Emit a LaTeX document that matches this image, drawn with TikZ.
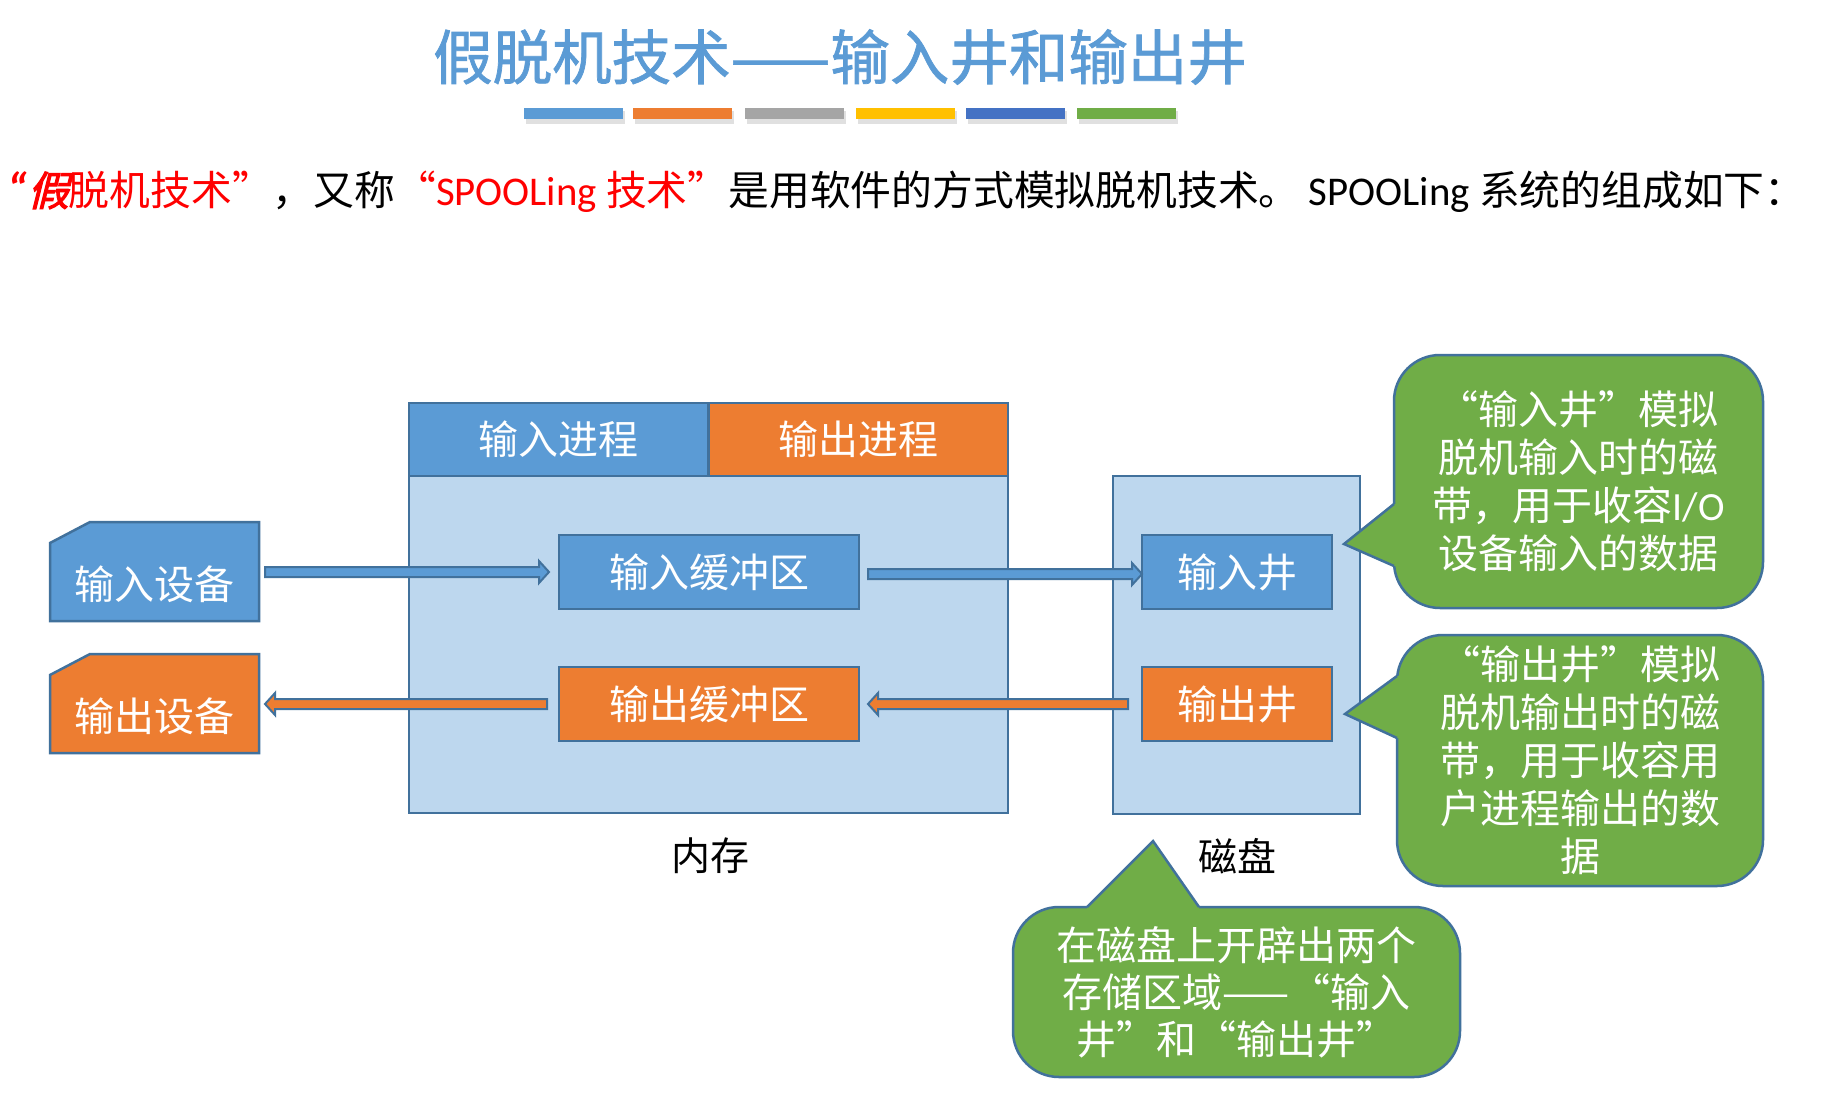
\documentclass[tikz,border=0pt]{standalone}
\usepackage{fontspec}
\setmainfont{Noto Sans CJK SC}
\newfontfamily\lat{Carlito}
\newfontfamily\leadfont[FakeSlant=0.25,FakeBold=2.5]{Noto Sans CJK SC}
\newfontfamily\titlefont[FakeBold=1.2]{Noto Sans CJK SC}
\usetikzlibrary{calc,backgrounds}

\definecolor{pblue}{HTML}{5B9BD5}
\definecolor{porange}{HTML}{ED7D31}
\definecolor{plight}{HTML}{BDD7EE}
\definecolor{edge}{HTML}{41719C}
\definecolor{pgreen}{HTML}{70AD47}
\definecolor{pgray}{HTML}{A5A5A5}
\definecolor{pgold}{HTML}{FFC000}
\definecolor{pnavy}{HTML}{4472C4}
\definecolor{pred}{HTML}{FF0000}

\tikzset{
  every node/.style={inner sep=0pt, outer sep=0pt},
  boxline/.style={draw=edge, line width=2.5pt},
  boxfont/.style={font=\fontsize{40}{48}\selectfont, text=white},
  bluebox/.style={boxline, boxfont, fill=pblue},
  orangebox/.style={boxline, boxfont, fill=porange},
  panel/.style={boxline, fill=plight},
  devfill/.style={draw=edge, line width=2.5pt, line join=miter},
  callout/.style={draw=edge, line width=2.5pt, fill=pgreen, rounded corners=46pt,
                  text=white, align=center, font=\fontsize{40}{48}\selectfont},
  calloutedge/.style={draw=edge, line width=2.5pt, line join=miter},
  barrow/.style={draw=edge, line width=2pt, fill=pblue, line join=miter},
  oarrow/.style={draw=edge, line width=2pt, fill=porange, line join=miter},
  caption/.style={font=\fontsize{39}{44}\selectfont, text=black},
  bar/.style={minimum width=99pt, minimum height=11pt},
  devtext/.style={boxfont, minimum width=209pt, minimum height=99pt, text height=60pt, text depth=5pt},
}

% horizontal block arrows: #1 style, #2 tail, #3 tip
\newcommand\rarrow[3]{%
  \draw[#1] let \p1=(#2), \p2=(#3) in
    (\x1,\y1+5pt) -- (\x2-10pt,\y1+5pt) -- (\x2-10pt,\y1+11pt) -- (\x2,\y1)
    -- (\x2-10pt,\y1-11pt) -- (\x2-10pt,\y1-5pt) -- (\x1,\y1-5pt) -- cycle;}
\newcommand\larrow[3]{%
  \draw[#1] let \p1=(#2), \p2=(#3) in
    (\x1,\y1+5pt) -- (\x2+10pt,\y1+5pt) -- (\x2+10pt,\y1+11pt) -- (\x2,\y1)
    -- (\x2+10pt,\y1-11pt) -- (\x2+10pt,\y1-5pt) -- (\x1,\y1-5pt) -- cycle;}

\begin{document}
\begin{tikzpicture}[x=1pt,y=-1pt]
\useasboundingbox (0,0) rectangle (1821,1098);
\begin{scope}[on background layer]
  \fill[white] (0,0) rectangle (1821,1098);
\end{scope}

% title and colour strip
\node[font=\titlefont\fontsize{59.5}{64}\selectfont, text=pblue] (title) at (840,57)
  {假脱机技术——输入井和输出井};
\foreach \xx/\cc [count=\i] in {524/pblue,633/porange,745/pgray,856/pgold,966/pnavy,1077/pgreen}{
  \fill[black, opacity=0.12] (\xx+2,111) rectangle (\xx+101,124);
  \node[bar, fill=\cc, anchor=north west] (bar\i) at (\xx,108) {};
}

% introduction line
\node[anchor=west, font=\fontsize{40.8}{44}\selectfont] (intro) at (8,192)
  {{\color{pred}{\lat\bfseries\itshape\fontsize{46}{44}\selectfont “}{\leadfont 假}脱机技术”}，又称{\color{pred}“{\lat SPOOLing} 技术”}是用软件的方式模拟脱机技术。 {\lat SPOOLing} 系统的组成如下：};

% memory panel with process header
\node[panel, minimum width=599pt, minimum height=410pt] (mem) at (708.5,608) {};
\node[bluebox, minimum width=299.5pt, minimum height=73pt] (inproc) at (558.75,439.5) {输入进程};
\node[orangebox, minimum width=299.5pt, minimum height=73pt] (outproc) at (858.25,439.5) {输出进程};
\node[bluebox, minimum width=300pt, minimum height=74pt] (inbuf) at (709,572) {输入缓冲区};
\node[orangebox, minimum width=300pt, minimum height=74pt] (outbuf) at (709,704) {输出缓冲区};
\node[caption] (memlabel) at (710,856) {内存};

% disk panel with the two wells
\node[panel, minimum width=247pt, minimum height=338pt] (disk) at (1236.5,645) {};
\node[bluebox, minimum width=190pt, minimum height=74pt] (inwell) at (1237,572) {输入井};
\node[orangebox, minimum width=190pt, minimum height=74pt] (outwell) at (1237,704) {输出井};
\node[caption] (disklabel) at (1237,856) {磁盘};

% devices (snipped corner cards)
\node[devtext] (indev) at (154.5,571.5) {输入设备};
\node[devtext] (outdev) at (154.5,703.5) {输出设备};
\begin{scope}[on background layer]
  \filldraw[devfill, fill=pblue] (indev.south west) -- (indev.south east) -- (indev.north east)
    -- ($(indev.north west)+(40,0)$) -- ($(indev.north west)+(0,21)$) -- cycle;
  \filldraw[devfill, fill=porange] (outdev.south west) -- (outdev.south east) -- (outdev.north east)
    -- ($(outdev.north west)+(40,0)$) -- ($(outdev.north west)+(0,21)$) -- cycle;
\end{scope}

% data flow
\coordinate (a1s) at ($(indev.east |- inbuf.west)+(6,0)$);
\coordinate (a1e) at ($(inbuf.west)+(-10,0)$);
\rarrow{barrow}{a1s}{a1e}
\coordinate (a2s) at ($(inbuf.east)+(9,2)$);
\coordinate (a2e) at ($(inwell.west)+(0,2)$);
\rarrow{barrow}{a2s}{a2e}
\coordinate (a3s) at ($(outwell.west)+(-14,0)$);
\coordinate (a3e) at ($(outbuf.east)+(9,0)$);
\larrow{oarrow}{a3s}{a3e}
\coordinate (a4s) at ($(outbuf.west)+(-12,0)$);
\coordinate (a4e) at ($(outdev.east |- outbuf.west)+(6,0)$);
\larrow{oarrow}{a4s}{a4e}

% callouts
\node[callout, minimum width=369pt, minimum height=253pt] (c1) at (1578.5,481.5)
  {“输入井”模拟\\脱机输入时的磁\\带，用于收容{\lat I/O}\\设备输入的数据};
\coordinate (c1a) at ($(c1.north west)+(0,149)$);
\coordinate (c1b) at ($(c1.north west)+(0,211)$);
\coordinate (c1t) at ($(c1.north west)+(-50,189)$);
\fill[pgreen] (c1a) -- (c1t) -- (c1b) -- ($(c1b)+(8,0)$) -- ($(c1a)+(8,0)$) -- cycle;
\draw[calloutedge] (c1a) -- (c1t) -- (c1b);

\node[callout, minimum width=366pt, minimum height=251pt] (c2) at (1580,760.5)
  {“输出井”模拟\\脱机输出时的磁\\带，用于收容用\\户进程输出的数\\据};
\coordinate (c2a) at ($(c2.north west)+(0,41)$);
\coordinate (c2b) at ($(c2.north west)+(0,103)$);
\coordinate (c2t) at ($(c2.north west)+(-52,79)$);
\fill[pgreen] (c2a) -- (c2t) -- (c2b) -- ($(c2b)+(8,0)$) -- ($(c2a)+(8,0)$) -- cycle;
\draw[calloutedge] (c2a) -- (c2t) -- (c2b);

\node[callout, minimum width=447pt, minimum height=170pt, font=\fontsize{40}{47}\selectfont]
  (c3) at (1236.5,992)
  {在磁盘上开辟出两个\\存储区域——“输入\\井”和“输出井”};
\coordinate (c3a) at ($(c3.north west)+(74,0)$);
\coordinate (c3b) at ($(c3.north west)+(186,0)$);
\coordinate (c3t) at ($(c3.north west)+(140,-66)$);
\fill[pgreen] (c3a) -- (c3t) -- (c3b) -- ($(c3b)+(0,8)$) -- ($(c3a)+(0,8)$) -- cycle;
\draw[calloutedge] (c3a) -- (c3t) -- (c3b);
\end{tikzpicture}
\end{document}
